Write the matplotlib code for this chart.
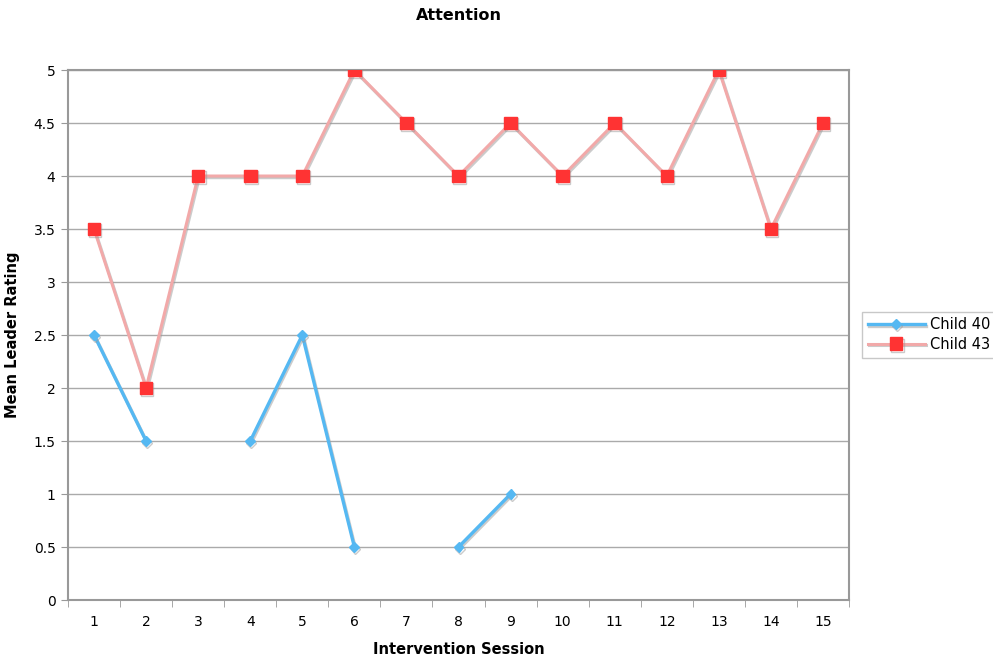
import numpy as np
import matplotlib.pyplot as plt
import matplotlib.patheffects as pe

# data
sessions = list(range(1, 16))
child40 = [2.5, 1.5, np.nan, 1.5, 2.5, 0.5, np.nan, 0.5, 1.0,
           np.nan, np.nan, np.nan, np.nan, np.nan, np.nan]
child43 = [3.5, 2.0, 4.0, 4.0, 4.0, 5.0, 4.5, 4.0, 4.5, 4.0, 4.5, 4.0, 5.0, 3.5, 4.5]
yticks = [0, 0.5, 1, 1.5, 2, 2.5, 3, 3.5, 4, 4.5, 5]
ytick_labels = ["0", "0.5", "1", "1.5", "2", "2.5", "3", "3.5", "4", "4.5", "5"]

plt.rcParams['font.family'] = ['DejaVu Sans']

fig = plt.figure(figsize=(9.93, 6.6), dpi=100)
ax = fig.add_axes([0.0685, 0.0909, 0.7865, 0.803])

shadow = [pe.SimpleLineShadow(offset=(0.8, -1.2), shadow_color='#999999', alpha=0.5), pe.Normal()]

ax.plot(sessions, child43, color='#F2A9A9', linewidth=2.2, marker='s', markersize=9,
        markerfacecolor='#FF3333', markeredgecolor='#FF3333', label='Child 43',
        path_effects=shadow, zorder=3)
ax.plot(sessions, child40, color='#55B8F2', linewidth=2.4, marker='D', markersize=5,
        markerfacecolor='#55B8F2', markeredgecolor='#55B8F2', label='Child 40',
        path_effects=shadow, zorder=4)

ax.set_xlim(0.5, 15.5)
ax.set_ylim(0, 5)
ax.set_yticks(yticks)
ax.set_yticklabels(ytick_labels)
ax.set_xticks(sessions)
ax.set_xticks(np.arange(0.5, 16, 1), minor=True)
ax.tick_params(axis='x', which='major', length=0, pad=11, labelsize=10)
ax.tick_params(axis='x', which='minor', length=5, color='#999999')
ax.tick_params(axis='y', length=5, color='#999999', labelsize=10, pad=4)

ax.grid(axis='y', color='#AAAAAA', linewidth=1)
ax.set_axisbelow(True)
for s in ax.spines.values():
    s.set_color('#999999')
    s.set_linewidth(1.5)

ax.set_title('Attention', fontsize=11.5, fontweight='bold', pad=36)
ax.set_xlabel('Intervention Session', fontsize=10.5, fontweight='bold', labelpad=9)
ax.set_ylabel('Mean Leader Rating', fontsize=10.5, fontweight='bold', labelpad=10)

handles, labels = ax.get_legend_handles_labels()
leg = fig.legend(handles[::-1], labels[::-1], loc='upper left', bbox_to_anchor=(0.868, 0.528),
                 fontsize=10.5, frameon=True, fancybox=False, borderpad=0.4,
                 handlelength=3.9, handletextpad=0.4, labelspacing=0.3, borderaxespad=0)
leg.get_frame().set_edgecolor('#BBBBBB')
leg.get_frame().set_linewidth(1)

plt.savefig('out.png', dpi=100)
